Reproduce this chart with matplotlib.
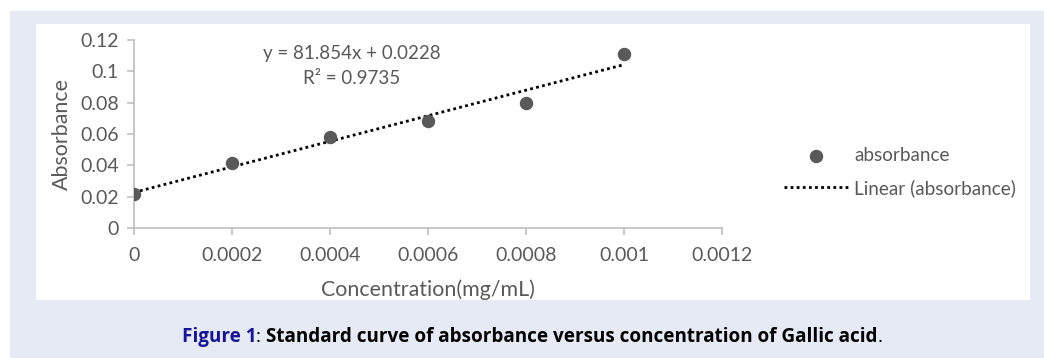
import matplotlib
matplotlib.use("Agg")
import matplotlib.pyplot as plt
from matplotlib.patches import Rectangle
import numpy as np

conc = [0, 0.0002, 0.0004, 0.0006, 0.0008, 0.001]
absorbance = [0.022, 0.0415, 0.058, 0.0685, 0.080, 0.111]
x_ticks = [0, 0.0002, 0.0004, 0.0006, 0.0008, 0.001, 0.0012]
x_tick_labels = ["0", "0.0002", "0.0004", "0.0006", "0.0008", "0.001", "0.0012"]
y_ticks = [0, 0.02, 0.04, 0.06, 0.08, 0.10, 0.12]
y_tick_labels = ["0", "0.02", "0.04", "0.06", "0.08", "0.1", "0.12"]
equation_text = "y = 81.854x + 0.0228"
r2_text = "R² = 0.9735"

W, H = 1044, 358
fig = plt.figure(figsize=(W / 100, H / 100), dpi=100)
fig.patch.set_facecolor("white")

def px_rect(x0, y0, x1, y1, color):
    fig.patches.append(Rectangle((x0 / W, 1 - y1 / H), (x1 - x0) / W, (y1 - y0) / H,
                                 transform=fig.transFigure, facecolor=color,
                                 edgecolor="none", zorder=-10))

px_rect(10, 11, W, H, "#e6eaf5")
px_rect(36, 24, 1030, 300, "white")

FONT = ["Lato", "DejaVu Sans"]
GRAY = "#595959"
AX = "#bfbfbf"

ax = fig.add_axes([134 / W, 1 - 228 / H, (722 - 134) / W, (228 - 40) / H])
ax.set_facecolor("none")

ax.scatter(conc, absorbance, s=75, color="#595959", zorder=3, label="absorbance")
coef = np.polyfit(conc, absorbance, 1)
xfit = np.array([conc[0], conc[-1]])
ax.plot(xfit, np.polyval(coef, xfit), color="black", linestyle=(0, (1, 1.2)),
        linewidth=2.0, zorder=2, label="Linear (absorbance)")

ax.set_xlim(0, 0.0012)
ax.set_ylim(0, 0.12)
ax.set_xticks(x_ticks)
ax.set_xticklabels(x_tick_labels)
ax.set_yticks(y_ticks)
ax.set_yticklabels(y_tick_labels)
for s in ["top", "right"]:
    ax.spines[s].set_visible(False)
for s in ["left", "bottom"]:
    ax.spines[s].set_color(AX)
    ax.spines[s].set_linewidth(1.2)
ax.tick_params(axis="both", colors=AX, length=5, width=1.2, labelcolor=GRAY,
               labelsize=14)
ax.tick_params(axis="x", pad=9)
ax.tick_params(axis="y", pad=6)
for lab in ax.get_xticklabels() + ax.get_yticklabels():
    lab.set_fontfamily(FONT)

ax.set_xlabel("Concentration(mg/mL)", fontsize=15.4, color=GRAY, family=FONT, labelpad=11)
ax.set_ylabel("Absorbance", fontsize=15.4, color=GRAY, family=FONT, labelpad=6)

fig.text(352 / W, 1 - 53 / H, equation_text, ha="center", va="center",
         fontsize=13.5, color=GRAY, family=FONT)
fig.text(352 / W, 1 - 79 / H, r2_text, ha="center", va="center",
         fontsize=13.5, color=GRAY, family=FONT)

leg = ax.legend(loc="center left", bbox_to_anchor=(767 / W, 1 - 172 / H),
                bbox_transform=fig.transFigure, frameon=False,
                handlelength=3.4, handletextpad=0.3, labelspacing=0.8,
                prop={"family": FONT, "size": 13.6})
for t in leg.get_texts():
    t.set_color(GRAY)

# caption built from pieces
cap_parts = [("Figure 1", "#15159a", "bold"), (": ", "black", "normal"),
             ("Standard curve of absorbance versus concentration of Gallic acid", "black", "bold"),
             (".", "black", "normal")]
fig.canvas.draw()
renderer = fig.canvas.get_renderer()
texts = []
for s, c, w in cap_parts:
    t = fig.text(0, 1 - 337 / H, s, color=c, fontweight=w, fontsize=13.6,
                 family=["Open Sans", "DejaVu Sans"], va="center", ha="left")
    texts.append(t)
widths = [t.get_window_extent(renderer).width for t in texts]
total = sum(widths)
x = 532 - total / 2
for t, w in zip(texts, widths):
    t.set_x(x / W)
    x += w

fig.savefig("out.png", dpi=100, facecolor=fig.get_facecolor())
